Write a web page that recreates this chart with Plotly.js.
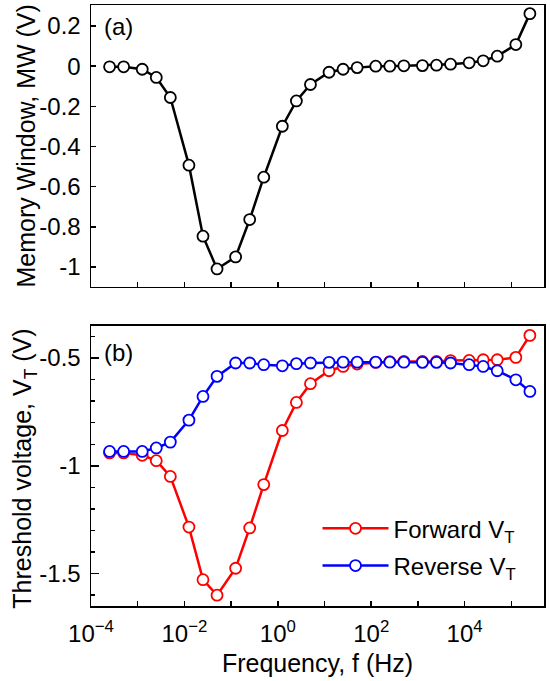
<!DOCTYPE html>
<html><head><meta charset="utf-8">
<script src="https://cdn.plot.ly/plotly-3.0.1.min.js"></script>
<style>html,body{margin:0;padding:0;background:#fff}</style>
</head><body><div id="chart" style="width:550px;height:681px"></div>
<script>
const freq = [2.5e-4, 5e-4, 1.25e-3, 2.5e-3, 5e-3, 1.25e-2, 2.5e-2, 5e-2, 0.125, 0.25, 0.5,
  1.25, 2.5, 5, 12.5, 25, 50, 125, 250, 500, 1250, 2500, 5000, 12500, 25000, 50000, 125000, 250000];
const memoryWindow = [-0.003, -0.003, -0.015, -0.056, -0.156, -0.493, -0.847, -1.01, -0.95, -0.764, -0.553,
  -0.299, -0.173, -0.091, -0.030, -0.015, -0.007, 0.0, 0.0, 0.002, 0.003, 0.005, 0.01, 0.017, 0.027, 0.05, 0.108, 0.262];
const forwardVT = [-0.940, -0.940, -0.951, -0.976, -1.049, -1.284, -1.528, -1.600, -1.475, -1.288, -1.087,
  -0.836, -0.706, -0.619, -0.559, -0.539, -0.528, -0.520, -0.517, -0.516, -0.516, -0.516, -0.512, -0.511, -0.508, -0.508, -0.497, -0.395];
const reverseVT = [-0.933, -0.933, -0.933, -0.917, -0.890, -0.788, -0.678, -0.585, -0.523, -0.523, -0.531,
  -0.536, -0.526, -0.523, -0.520, -0.519, -0.519, -0.519, -0.519, -0.519, -0.520, -0.520, -0.523, -0.531, -0.539, -0.559, -0.601, -0.655];
const xTickVals = [1e-4, 1e-3, 1e-2, 1e-1, 1, 10, 100, 1000, 1e4, 1e5];
const xTickText = ['10<sup>\u22124</sup>', '', '10<sup>\u22122</sup>', '', '10<sup>0</sup>', '', '10<sup>2</sup>', '', '10<sup>4</sup>', ''];
const mwTickVals = [0.2, 0, -0.2, -0.4, -0.6, -0.8, -1];
const mwTickText = ['0.2', '0', '-0.2', '-0.4', '-0.6', '-0.8', '-1'];
const vtTickVals = [-0.5, -1, -1.5];
const vtTickText = ['-0.5', '-1', '-1.5'];
const mwTitle = 'Memory Window, MW (V)';
const vtTitle = 'Threshold voltage, V<sub>T</sub> (V)';

const FONT = '"Liberation Sans", Arial, sans-serif';
const mkw = (c) => ({symbol: 'circle', size: 11, color: '#ffffff', line: {width: 1.8, color: c}});

const traces = [
  {x: freq, y: memoryWindow, xaxis: 'x', yaxis: 'y', mode: 'lines+markers', showlegend: false,
   line: {color: '#000000', width: 2.5}, marker: mkw('#000000')},
  {x: freq, y: forwardVT, xaxis: 'x2', yaxis: 'y2', mode: 'lines+markers', name: 'Forward V<sub>T</sub>',
   legendgroup: 'f', line: {color: '#ff0000', width: 2.5}, marker: mkw('#ff0000')},
  {x: freq, y: reverseVT, xaxis: 'x2', yaxis: 'y2', mode: 'lines+markers', name: 'Reverse V<sub>T</sub>',
   legendgroup: 'r', line: {color: '#0000ff', width: 2.5}, marker: mkw('#0000ff')}
];

const xr = [-4, 5.7];
const baseX = {type: 'log', range: xr, tickmode: 'array', tickvals: xTickVals, ticks: 'inside', ticklen: 5,
  tickwidth: 1.5, tickcolor: '#000', showline: true, linecolor: '#000', linewidth: 1.5, mirror: true,
  showgrid: false, zeroline: false, tickfont: {size: 24, color: '#000'}, ticklabelstandoff: 6};

const layout = {
  width: 550, height: 681,
  margin: {l: 91, r: 6, t: 5, b: 75},
  paper_bgcolor: '#fff', plot_bgcolor: '#fff',
  font: {family: FONT, color: '#000'},
  showlegend: true,
  xaxis: Object.assign({}, baseX, {anchor: 'y', showticklabels: false, ticktext: xTickVals.map(() => '')}),
  xaxis2: Object.assign({}, baseX, {anchor: 'y2', ticktext: xTickText,
    title: {text: 'Frequency, f (Hz)', font: {size: 25}, standoff: 8}}),
  yaxis: {domain: [0.5308, 1], range: [-1.1, 0.305], anchor: 'x', tickmode: 'array', tickvals: mwTickVals,
    ticktext: mwTickText, ticks: 'inside', ticklen: 5, tickwidth: 1.5, tickcolor: '#000', showline: true,
    linecolor: '#000', linewidth: 1.5, mirror: true, showgrid: false, zeroline: false,
    tickfont: {size: 24}, ticklabelstandoff: 4},
  yaxis2: {domain: [0, 0.4664], range: [-1.65, -0.35], anchor: 'x2', tickmode: 'array', tickvals: vtTickVals,
    ticktext: vtTickText, ticks: 'inside', ticklen: 8, tickwidth: 1.5, tickcolor: '#000', showline: true,
    linecolor: '#000', linewidth: 1.5, mirror: true, showgrid: false, zeroline: false,
    tickfont: {size: 24}, ticklabelstandoff: 4,
    minor: {dtick: 0.1, tick0: 0, ticks: 'inside', ticklen: 4, tickwidth: 1.5, tickcolor: '#000', showgrid: false}},
  legend: {x: 0.5, y: 0.166, xanchor: 'left', yanchor: 'top', bgcolor: 'rgba(0,0,0,0)',
    font: {size: 24}, traceorder: 'grouped', tracegroupgap: 3, itemwidth: 66},
  annotations: [
    {text: '(a)', xref: 'x domain', yref: 'y domain', x: 0.024, y: 0.922, xanchor: 'left', yanchor: 'middle',
     showarrow: false, font: {size: 24}},
    {text: '(b)', xref: 'x2 domain', yref: 'y2 domain', x: 0.024, y: 0.906, xanchor: 'left', yanchor: 'middle',
     showarrow: false, font: {size: 24}},
    {text: mwTitle, textangle: -90, xref: 'paper', yref: 'y domain', x: (25.5 - 91) / 453, y: 0.5,
     xanchor: 'center', yanchor: 'middle', showarrow: false, font: {size: 25}},
    {text: vtTitle, textangle: -90, xref: 'paper', yref: 'y2 domain', x: (24 - 91) / 453, y: 0.49,
     xanchor: 'center', yanchor: 'middle', showarrow: false, font: {size: 25}}
  ]
};

Plotly.newPlot('chart', traces, layout, {displayModeBar: false, staticPlot: true});
</script></body></html>
